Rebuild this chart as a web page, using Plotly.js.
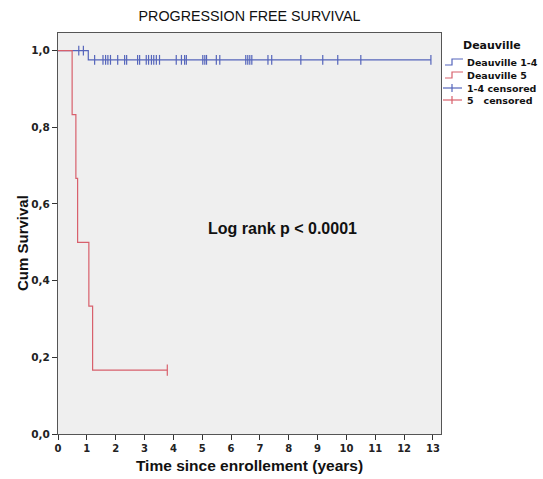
<!DOCTYPE html>
<html>
<head>
<meta charset="utf-8">
<script src="https://cdn.plot.ly/plotly-3.0.1.min.js"></script>
<style>html,body{margin:0;padding:0;background:#fff}#chart{width:543px;height:479px}</style>
</head>
<body>
<div id="chart"></div>
<script>
// Kaplan-Meier step data (time in years, cumulative survival)
var blueTimes = [0, 1.05, 12.93];
var blueSurv  = [1, 0.976, 0.976];
var redTimes  = [0, 0.49, 0.62, 0.68, 1.07, 1.2, 3.79];
var redSurv   = [1, 0.8333, 0.6667, 0.5, 0.3333, 0.1667, 0.1667];

// Censored observations
var blueCensTimes = [0.72, 0.88, 1.27, 1.56, 1.65, 1.73, 1.82, 2.07, 2.31, 2.38, 2.76, 2.83,
  3.06, 3.14, 3.24, 3.32, 3.41, 3.52, 4.10, 4.28, 4.39, 4.45, 5.02, 5.09, 5.15, 5.49, 5.61,
  6.51, 6.58, 6.65, 6.72, 7.28, 7.41, 8.42, 9.18, 9.70, 10.50, 12.93];
var blueCensSurv = [1, 1, 0.976, 0.976, 0.976, 0.976, 0.976, 0.976, 0.976, 0.976, 0.976, 0.976,
  0.976, 0.976, 0.976, 0.976, 0.976, 0.976, 0.976, 0.976, 0.976, 0.976, 0.976, 0.976, 0.976, 0.976, 0.976,
  0.976, 0.976, 0.976, 0.976, 0.976, 0.976, 0.976, 0.976, 0.976, 0.976, 0.976];
var redCensTimes = [3.79];
var redCensSurv  = [0.1667];

var xTicks = [0,1,2,3,4,5,6,7,8,9,10,11,12,13];
var yTicks = [0, 0.2, 0.4, 0.6, 0.8, 1.0];
var yTickText = ['0,0', '0,2', '0,4', '0,6', '0,8', '1,0'];
var legendTitle = 'Deauville';
var legendLabels = ['Deauville 1-4', 'Deauville 5', '1-4 censored', '5   censored'];

var BLUE = '#5565bb', RED = '#d8606c';
var FONT = 'Liberation Sans, Arial, sans-serif';
var WIDE = 'DejaVu Sans, sans-serif';

var traces = [
  {x: blueTimes, y: blueSurv, mode: 'lines', line: {shape: 'hv', color: BLUE, width: 1.2}, showlegend: false, hoverinfo: 'skip'},
  {x: redTimes, y: redSurv, mode: 'lines', line: {shape: 'hv', color: RED, width: 1.2}, showlegend: false, hoverinfo: 'skip'},
  {x: blueCensTimes, y: blueCensSurv, mode: 'markers', marker: {symbol: 'line-ns-open', size: 7, color: BLUE, line: {width: 1.2, color: BLUE}}, showlegend: false, hoverinfo: 'skip'},
  {x: redCensTimes, y: redCensSurv, mode: 'markers', marker: {symbol: 'line-ns-open', size: 8, color: RED, line: {width: 1.2, color: RED}}, showlegend: false, hoverinfo: 'skip'}
];

var W = 543, H = 479;
var M = {l: 58, r: 102, t: 33, b: 45};
var PW = W - M.l - M.r, PH = H - M.t - M.b;
// pixel -> paper (plot-area) coordinates, for legend decoration
function px(x){ return (x - M.l) / PW; }
function py(y){ return 1 - (y - M.t) / PH; }

var annotations = [
  {text: '<b>Log rank p &lt; 0.0001</b>', xref: 'x', yref: 'y', x: 7.8, y: 0.537, showarrow: false,
   font: {family: FONT, size: 16, color: '#111'}},
  {text: '<b>Cum Survival</b>', xref: 'paper', yref: 'paper', x: px(22), y: py(243), textangle: -90,
   showarrow: false, xanchor: 'center', yanchor: 'middle', font: {family: FONT, size: 15, color: '#111'}},
  {text: '<b>' + legendTitle + '</b>', xref: 'paper', yref: 'paper', x: px(461), y: py(45), xanchor: 'left', yanchor: 'middle',
   showarrow: false, font: {family: WIDE, size: 11, color: '#111'}}
];
var shapes = [];
var legY = [62, 75, 88, 100];
var legColors = [BLUE, RED, BLUE, RED];
for (var i = 0; i < legendLabels.length; i++) {
  var yy = legY[i];
  annotations.push({text: '<b>' + legendLabels[i] + '</b>', xref: 'paper', yref: 'paper', x: px(465), y: py(yy),
    xanchor: 'left', yanchor: 'middle', showarrow: false, font: {family: WIDE, size: 9.5, color: '#111'}});
  if (i < 2) {
    shapes.push({type: 'path', xref: 'paper', yref: 'paper',
      path: 'M ' + px(445) + ' ' + py(yy + 3) + ' L ' + px(452) + ' ' + py(yy + 3) + ' L ' + px(452) + ' ' + py(yy - 3) + ' L ' + px(463) + ' ' + py(yy - 3),
      line: {color: legColors[i], width: 1.2}});
  } else {
    shapes.push({type: 'line', xref: 'paper', yref: 'paper', x0: px(443), x1: px(462), y0: py(yy), y1: py(yy),
      line: {color: legColors[i], width: 1.2}});
    shapes.push({type: 'line', xref: 'paper', yref: 'paper', x0: px(452), x1: px(452), y0: py(yy - 4), y1: py(yy + 4),
      line: {color: legColors[i], width: 1.2}});
  }
}

var layout = {
  width: W, height: H,
  margin: {l: M.l, r: M.r, t: M.t, b: M.b, pad: 0},
  paper_bgcolor: '#ffffff',
  plot_bgcolor: '#efefef',
  showlegend: false,
  title: {text: 'PROGRESSION FREE SURVIVAL', x: 0.5, xref: 'paper', y: 1 - 16 / H, yref: 'container', yanchor: 'middle',
          font: {family: FONT, size: 14.3, color: '#111'}},
  xaxis: {range: [0, 13.28], tickvals: xTicks, ticktext: xTicks.map(function(v){return '<b>' + v + '</b>';}),
          ticks: 'outside', ticklen: 5, tickcolor: '#333', showline: true, linecolor: '#555', linewidth: 1,
          mirror: true, showgrid: false, zeroline: false, tickfont: {family: WIDE, size: 10, color: '#222'},
          title: {text: '<b>Time since enrollement (years)</b>', standoff: 7, font: {family: FONT, size: 15.5, color: '#111'}}},
  yaxis: {range: [0, 1.046], tickvals: yTicks, ticktext: yTickText.map(function(v){return '<b>' + v + '</b>';}),
          ticks: 'outside', ticklen: 5, tickcolor: '#333', showline: true, linecolor: '#555', linewidth: 1,
          mirror: true, showgrid: false, zeroline: false, tickfont: {family: WIDE, size: 10.5, color: '#222'}},
  annotations: annotations,
  shapes: shapes
};

Plotly.newPlot('chart', traces, layout, {staticPlot: true, displayModeBar: false});
</script>
</body>
</html>
